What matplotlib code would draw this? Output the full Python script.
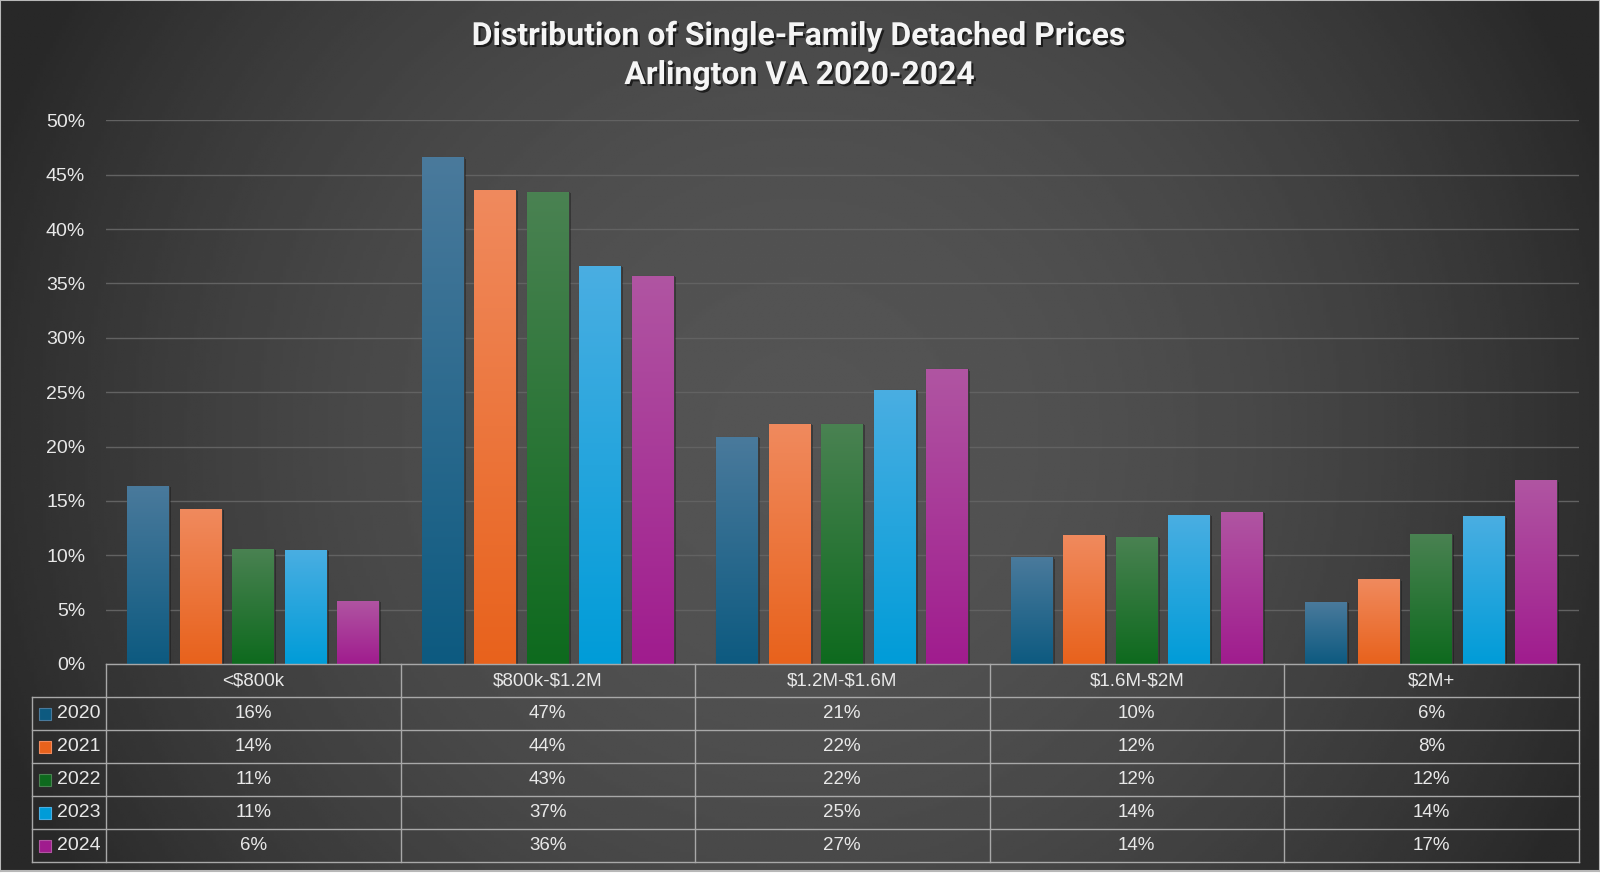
# Distribution of single-family detached prices, Arlington VA
import numpy as np
import matplotlib.pyplot as plt
from matplotlib import patheffects as pe
from matplotlib.colors import LinearSegmentedColormap

# Data (share of sales, %)
categories = ['<$800k', '$800k-$1.2M', '$1.2M-$1.6M', '$1.6M-$2M', '$2M+']
years = ['2020', '2021', '2022', '2023', '2024']
share_2020 = [16.4, 46.6, 20.9, 9.8, 5.7]
share_2021 = [14.3, 43.6, 22.1, 11.9, 7.8]
share_2022 = [10.6, 43.4, 22.1, 11.7, 12.0]
share_2023 = [10.5, 36.6, 25.2, 13.7, 13.6]
share_2024 = [5.8, 35.7, 27.1, 14.0, 16.9]
shares = [share_2020, share_2021, share_2022, share_2023, share_2024]

# bottom colour, top colour of each bar gradient
base_colors = ['#0d5a80', '#e8621c', '#0e6a1e', '#009cd8', '#a01c8e']
top_colors = ['#4a7a9c', '#f08a5e', '#4a8252', '#4aaee2', '#b055a2']

FONT = 'Liberation Sans'
TXT = '#e8e8e8'
LINE = '#a8a8a8'

fig = plt.figure(figsize=(16, 8.75), dpi=100, facecolor='white')

# Background with radial gradient
bg = fig.add_axes([0, 4 / 875, 1, 1 - 4 / 875], zorder=-10)
yy, xx = np.mgrid[0:1:300j, 0:1:500j]
d = np.sqrt(((xx - 0.5) / 0.55) ** 2 + ((yy - 0.5) / 1.0) ** 2)
shade = np.clip(0.33 - 0.18 * d ** 2, 0.16, 0.33)
bg.imshow(shade, cmap='gray', vmin=0, vmax=1, aspect='auto', extent=[0, 1, 0, 1])
bg.set_xticks([])
bg.set_yticks([])
for s in bg.spines.values():
    s.set_color('#b8b8b8')
    s.set_linewidth(1.5)

# Main bar axes
x0, w_ax = 106 / 1600, 1472.5 / 1600
ax = fig.add_axes([x0, 211 / 875, w_ax, 543.7 / 875])
ax.set_facecolor('none')

n = len(years)
step = 0.178
width = 0.1425
xc = np.arange(len(categories))
for j in range(n):
    xs = xc + (j - (n - 1) / 2) * step
    bars = ax.bar(xs, shares[j], width, color=base_colors[j], edgecolor='#3c3c3c',
                  linewidth=0.8, zorder=3)
    cmap = LinearSegmentedColormap.from_list('g%d' % j, [top_colors[j], base_colors[j]])
    grad = np.linspace(0, 1, 256)[:, None]
    for b in bars:
        b.set_path_effects([pe.SimplePatchShadow(offset=(1.5, -1), shadow_rgbFace='black',
                                                 alpha=0.3), pe.Normal()])
        bx, h = b.get_x(), b.get_height()
        im = ax.imshow(grad, cmap=cmap, extent=[bx, bx + width, 0, h], origin='upper',
                       aspect='auto', zorder=3.5)
        im.set_clip_path(b)

ax.set_xlim(-0.5, len(categories) - 0.5)
ax.set_ylim(0, 50)
ax.set_yticks(np.arange(0, 51, 5))
ax.set_yticklabels(['%d%%' % v for v in range(0, 51, 5)])
ax.tick_params(axis='y', length=0, pad=15, labelsize=14, labelcolor=TXT)
for lab in ax.get_yticklabels():
    lab.set_fontfamily(FONT)
ax.set_xticks([])
ax.yaxis.grid(True, color='#626262', linewidth=1)
ax.set_axisbelow(True)
for s in ax.spines.values():
    s.set_visible(False)

# Data table under the bars
tax = fig.add_axes([x0, 12.7 / 875, w_ax, 198.3 / 875])
tax.set_facecolor('none')
tax.set_xlim(-0.5, len(categories) - 0.5)
tax.set_ylim(6, 0)
tax.axis('off')

left = -0.5 - 73.7 / 294.5
right = len(categories) - 0.5
lkw = dict(color=LINE, linewidth=1, clip_on=False)
tax.plot([-0.5, right], [0, 0], **lkw)
for r in range(1, 7):
    tax.plot([left, right], [r, r], **lkw)
tax.plot([left, left], [1, 6], **lkw)
for c in range(len(categories) + 1):
    tax.plot([c - 0.5, c - 0.5], [0, 6], **lkw)

for i, cat in enumerate(categories):
    tax.text(i, 0.5, cat, ha='center', va='center', fontsize=13.5, color=TXT, family=FONT,
             parse_math=False)
for j in range(n):
    tax.scatter([-0.706], [j + 1.5], marker='s', s=75, color=base_colors[j],
                edgecolors=top_colors[j], linewidths=0.8, clip_on=False)
    tax.text(-0.666, j + 1.5, years[j], ha='left', va='center', fontsize=14,
             color=TXT, family=FONT)
    for i in range(len(categories)):
        tax.text(i, j + 1.5, '%d%%' % int(shares[j][i] + 0.5), ha='center', va='center',
                 fontsize=13.5, color=TXT, family=FONT)

# Title
tkw = dict(ha='center', va='center', fontsize=23, fontweight='bold', color='#f5f5f5',
           family=['Roboto', 'DejaVu Sans'])
t1 = fig.text(0.5, 1 - 36 / 875, 'Distribution of Single-Family Detached Prices', **tkw)
t2 = fig.text(0.5, 1 - 75 / 875, 'Arlington VA 2020-2024', **tkw)
for t in (t1, t2):
    t.set_path_effects([pe.withSimplePatchShadow(offset=(1.5, -1.5), shadow_rgbFace='black',
                                                 alpha=0.6)])

fig.savefig('out.png', dpi=100, facecolor=fig.get_facecolor())
